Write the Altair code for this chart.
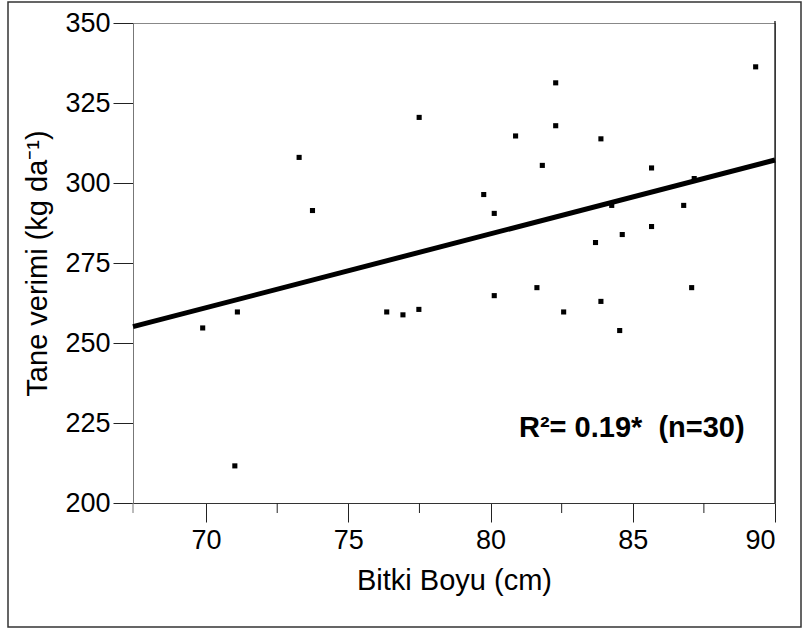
import altair as alt
import pandas as pd

# ---- data ----
bitki_boyu = [77.49, 73.27, 73.74, 89.32, 82.29, 82.29, 80.88, 83.88, 81.82, 85.66,
              79.76, 80.13, 84.26, 86.79, 87.16, 85.66, 84.63, 83.69, 80.13, 81.63,
              87.07, 82.57, 83.88, 84.54, 69.88, 71.10, 76.35, 76.92, 77.48, 71.01]
tane_verimi = [320.5, 308.0, 291.4, 336.3, 331.3, 317.9, 314.7, 313.8, 305.5, 304.7,
               296.4, 290.5, 293.0, 293.0, 301.4, 286.4, 283.9, 281.4, 264.8, 267.3,
               267.3, 259.7, 263.0, 253.9, 254.7, 259.7, 259.7, 258.8, 260.5, 211.6]
fit_x = [67.43, 90.0]
fit_y = [255.1, 307.2]
x_ticks = [70, 75, 80, 85, 90]
x_minor_ticks = [72.5, 77.5, 82.5, 87.5]
y_ticks = [200, 225, 250, 275, 300, 325, 350]
x_domain = [67.43, 90.0]
y_domain = [200, 350]
note_x = [81.0]
note_y = [220.6]
note_text = ["R\u00b2= 0.19*\u00a0\u00a0(n=30)"]

W, H = 642, 480
FONT = "Liberation Sans"

xs = alt.Scale(domain=x_domain, nice=False, zero=False)
ys = alt.Scale(domain=y_domain, nice=False, zero=False)

x_axis = alt.Axis(title="Bitki Boyu (cm)", values=x_ticks, tickSize=19, labelPadding=5,
                  titlePadding=13, domainColor="#333", format="d")
y_axis = alt.Axis(title="Tane verimi (kg da\u207b\u00b9)", values=y_ticks, tickSize=20,
                  labelPadding=3, titlePadding=12, domainColor="#777", format="d")

X = alt.X("x:Q", scale=xs, axis=x_axis)
Y = alt.Y("y:Q", scale=ys, axis=y_axis)

pts = pd.DataFrame({"x": bitki_boyu, "y": tane_verimi})
fit = pd.DataFrame({"x": fit_x, "y": fit_y})
minor = pd.DataFrame({"x": x_minor_ticks})
note = pd.DataFrame({"x": note_x, "y": note_y, "t": note_text})

points = alt.Chart(pts).mark_square(size=26, color="black", opacity=1).encode(x=X, y=Y)

line = alt.Chart(fit).mark_line(color="black", strokeWidth=5).encode(x=X, y=Y)

minor_rules = alt.Chart(minor).mark_rule(color="#222", strokeWidth=1).encode(
    x=X, y=alt.value(H), y2=alt.value(H + 10))

one = alt.Data(values=[{}])
left_ext = alt.Chart(one).mark_rule(color="#777", strokeWidth=1).encode(
    x=alt.value(0), y=alt.value(H), y2=alt.value(H + 10))
right_border = alt.Chart(one).mark_rule(color="black", strokeWidth=1.2).encode(
    x=alt.value(W), y=alt.value(-2), y2=alt.value(H))
frame = alt.Chart(one).mark_rect(fillOpacity=0, stroke="#333", strokeWidth=1.5).encode(
    x=alt.value(-125), x2=alt.value(668), y=alt.value(-21), y2=alt.value(604))

text = alt.Chart(note).mark_text(
    align="left", baseline="alphabetic", fontSize=29, fontWeight="bold",
    font=FONT, color="black").encode(x=X, y=Y, text="t:N")

chart = alt.layer(points, line, minor_rules, text, left_ext, right_border, frame).properties(
    width=W, height=H,
    autosize=alt.AutoSizeParams(type="none"),
    padding={"left": 133, "top": 23, "right": 802 - 133 - W, "bottom": 630 - 23 - H},
    background="white",
).configure_view(
    stroke="#888", strokeWidth=1
).configure_axis(
    labelFont=FONT, labelFontSize=27, labelColor="black",
    titleFont=FONT, titleFontSize=29, titleFontWeight="normal", titleColor="black",
    tickColor="#222", grid=False, domainWidth=1, tickWidth=1,
)

chart.save("out.html", embed_options={"renderer": "svg", "actions": False})
